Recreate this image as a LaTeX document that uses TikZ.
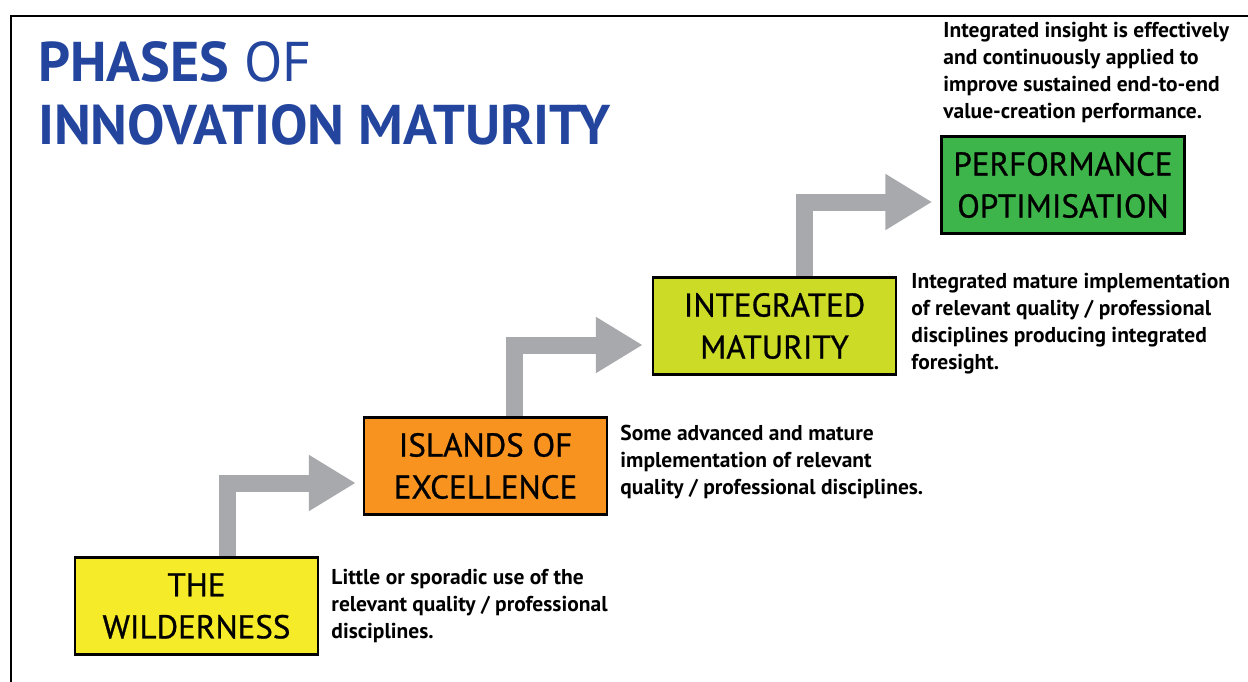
\documentclass[tikz,border=0pt]{standalone}
\usepackage{fontspec}
\setmainfont{PT Sans}
\newfontfamily\labelfont[FakeBold=0.8]{PT Sans}
\usetikzlibrary{positioning,calc,arrows.meta}
\definecolor{titleblue}{RGB}{35,69,158}
\definecolor{wildyellow}{RGB}{245,235,40}
\definecolor{islorange}{RGB}{247,147,30}
\definecolor{intlime}{RGB}{204,219,38}
\definecolor{perfgreen}{RGB}{62,181,74}
\definecolor{arrowgray}{RGB}{167,169,172}

\begin{document}
\begin{tikzpicture}[x=1pt,y=-1pt,
	phase/.style={draw=black, line width=2.5pt, minimum width=243pt, minimum height=97pt,
		align=center, inner sep=0pt, font=\labelfont\fontsize{33}{42}\selectfont},
	desc/.style={align=left, inner sep=0pt, font=\bfseries\fontsize{21.5}{27}\selectfont},
	stair/.style={draw=arrowgray, line width=17pt, line join=miter,
		-{Triangle[length=47pt,width=53pt]}}]

	\useasboundingbox (0,0) rectangle (1248,682);

	%Frame
	\draw[line width=1.5pt] (1248,16) -- (11,16) -- (11,682);

	%Title
	\node[anchor=base west, inner sep=0pt, text=titleblue, font=\fontsize{56}{63}\selectfont] (title1) at (38,82) {\textbf{PHASES} OF};
	\node[anchor=base west, inner sep=0pt, text=titleblue, font=\bfseries\fontsize{56}{63}\selectfont] (title2) at (38,145) {INNOVATION MATURITY};

	%Phases
	\node[phase, fill=wildyellow] (wild) at (196.5,606) {THE\\WILDERNESS};
	\node[phase, fill=islorange] (isl) at (485.5,466) {ISLANDS OF\\EXCELLENCE};
	\node[phase, fill=intlime] (int) at (774.5,326) {INTEGRATED\\MATURITY};
	\node[phase, fill=perfgreen] (perf) at (1063,185) {PERFORMANCE\\OPTIMISATION};

	%Steps
	\draw[stair] ($(wild.north)+(31,0)$) |- ($(isl.west)+(-7,17)$);
	\draw[stair] ($(isl.north)+(28.5,0)$) |- ($(int.west)+(-9,19)$);
	\draw[stair] ($(int.north)+(29.5,0)$) |- ($(perf.west)+(-8,17)$);

	%Descriptions
	\node[desc, anchor=west] (wilddesc) at ($(wild.east)+(12,0)$) {Little or sporadic use of the\\relevant quality / professional\\disciplines.};
	\node[desc, anchor=west] (isldesc) at ($(isl.east)+(12,-4)$) {Some advanced and mature\\implementation of relevant\\quality / professional disciplines.};
	\node[desc, anchor=west] (intdesc) at ($(int.east)+(14,-2)$) {Integrated mature implementation\\of relevant quality / professional\\disciplines producing integrated\\foresight.};
	\node[desc, anchor=south west] (perfdesc) at ($(perf.north west)+(3,-12)$) {Integrated insight is effectively\\and continuously applied to\\improve sustained end-to-end\\value-creation performance.};

\end{tikzpicture}
\end{document}
